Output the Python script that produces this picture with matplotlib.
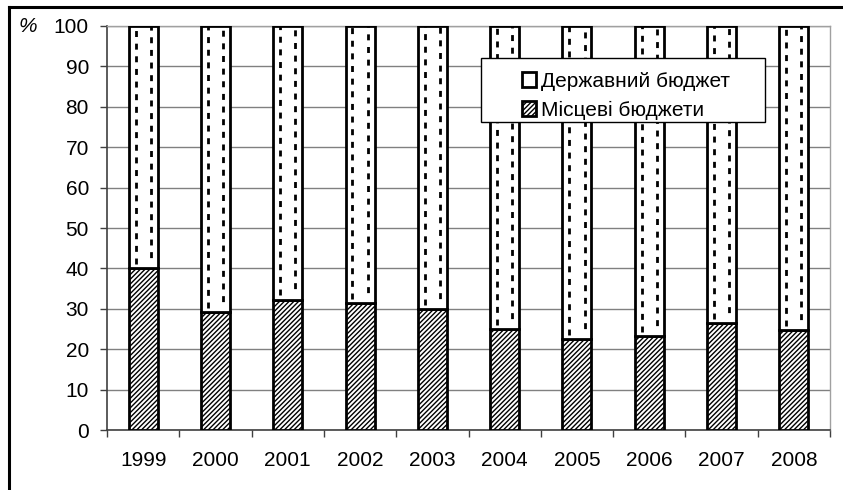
#!/usr/bin/env python3
"""Budget share chart: state vs local budgets, 1999-2008."""

import matplotlib.pyplot as plt
import numpy as np
from matplotlib.lines import Line2D
from matplotlib.patches import Rectangle

plt.rcParams["font.family"] = ["Liberation Sans", "DejaVu Sans"]
plt.rcParams["lines.scale_dashes"] = False
plt.rcParams["hatch.linewidth"] = 1.0
plt.rcParams["hatch.color"] = "#2a2a2a"

years = ["1999", "2000", "2001", "2002", "2003", "2004", "2005", "2006", "2007", "2008"]
local_share = [40.0, 29.1, 32.3, 31.4, 29.9, 25.0, 22.6, 23.2, 26.5, 24.7]
state_share = [100 - v for v in local_share]

label_state = "Державний бюджет"
label_local = "Місцеві бюджети"

fig = plt.figure(figsize=(8.43, 4.90), dpi=100)
ax = fig.add_axes([107 / 843, 1 - 430 / 490, (830 - 107) / 843, (430 - 26) / 490])

x = np.arange(len(years))
width = 0.4

ax.bar(x, local_share, width, color="white", edgecolor="black", linewidth=2,
       hatch="///////", zorder=3, label=label_local)
ax.bar(x, state_share, width, bottom=local_share, color="white", edgecolor="black",
       linewidth=2, zorder=3, label=label_state)

# dashed fill inside the state budget segments
for xi, lo in zip(x, local_share):
    ax.vlines(xi - 0.105, lo + 1, 100, colors="black", linewidth=2,
              linestyles=[(0, (4.3, 4.8))], zorder=4)
    ax.vlines(xi + 0.105, lo + 1, 100, colors="black", linewidth=2,
              linestyles=[(4.5, (4.3, 4.8))], zorder=4)

ax.set_xlim(-0.5, len(years) - 0.5)
ax.set_ylim(0, 100)
ax.set_yticks(np.arange(0, 101, 10))
ax.set_xticks(x)
ax.set_xticklabels(years)
ax.set_xticks(np.arange(-0.5, len(years), 1), minor=True)
ax.tick_params(axis="x", which="major", length=0, pad=15, labelsize=15)
ax.tick_params(axis="x", which="minor", length=5, width=1, color="#404040")
ax.tick_params(axis="y", length=5, width=1, color="#404040", pad=8, labelsize=15)
ax.grid(axis="y", color="#808080", linewidth=1, zorder=0)
ax.set_axisbelow(True)

for side in ("top", "right"):
    ax.spines[side].set_color("#a0a0a0")
    ax.spines[side].set_linewidth(1)
for side in ("left", "bottom"):
    ax.spines[side].set_color("#404040")
    ax.spines[side].set_linewidth(1.2)

fig.text(28 / 843, 1 - 27 / 490, "%", fontsize=15, fontstyle="italic",
         ha="center", va="center")

# legend box with the wide left margin
fig.patches.append(Rectangle((481 / 843, 1 - 122 / 490), (765 - 481) / 843, 64 / 490,
                             transform=fig.transFigure, facecolor="white",
                             edgecolor="black", linewidth=1, zorder=5))
handles, labels = ax.get_legend_handles_labels()
leg = fig.legend(handles[::-1], labels[::-1], loc="upper left",
                 bbox_to_anchor=(507 / 843, 1 - 57 / 490), frameon=False,
                 fontsize=15, handlelength=0.7, handleheight=0.7,
                 handletextpad=0.25, labelspacing=0.5, borderpad=0.2)
leg.set_zorder(6)

# outer frame (top and left edges)
fig.add_artist(Line2D([9 / 843, 9 / 843], [0, 1 - 7 / 490], color="black",
                      linewidth=2.2, transform=fig.transFigure))
fig.add_artist(Line2D([9 / 843, 1], [1 - 7 / 490, 1 - 7 / 490], color="black",
                      linewidth=2.2, transform=fig.transFigure))

fig.savefig("out.png", dpi=100)
plt.close(fig)
